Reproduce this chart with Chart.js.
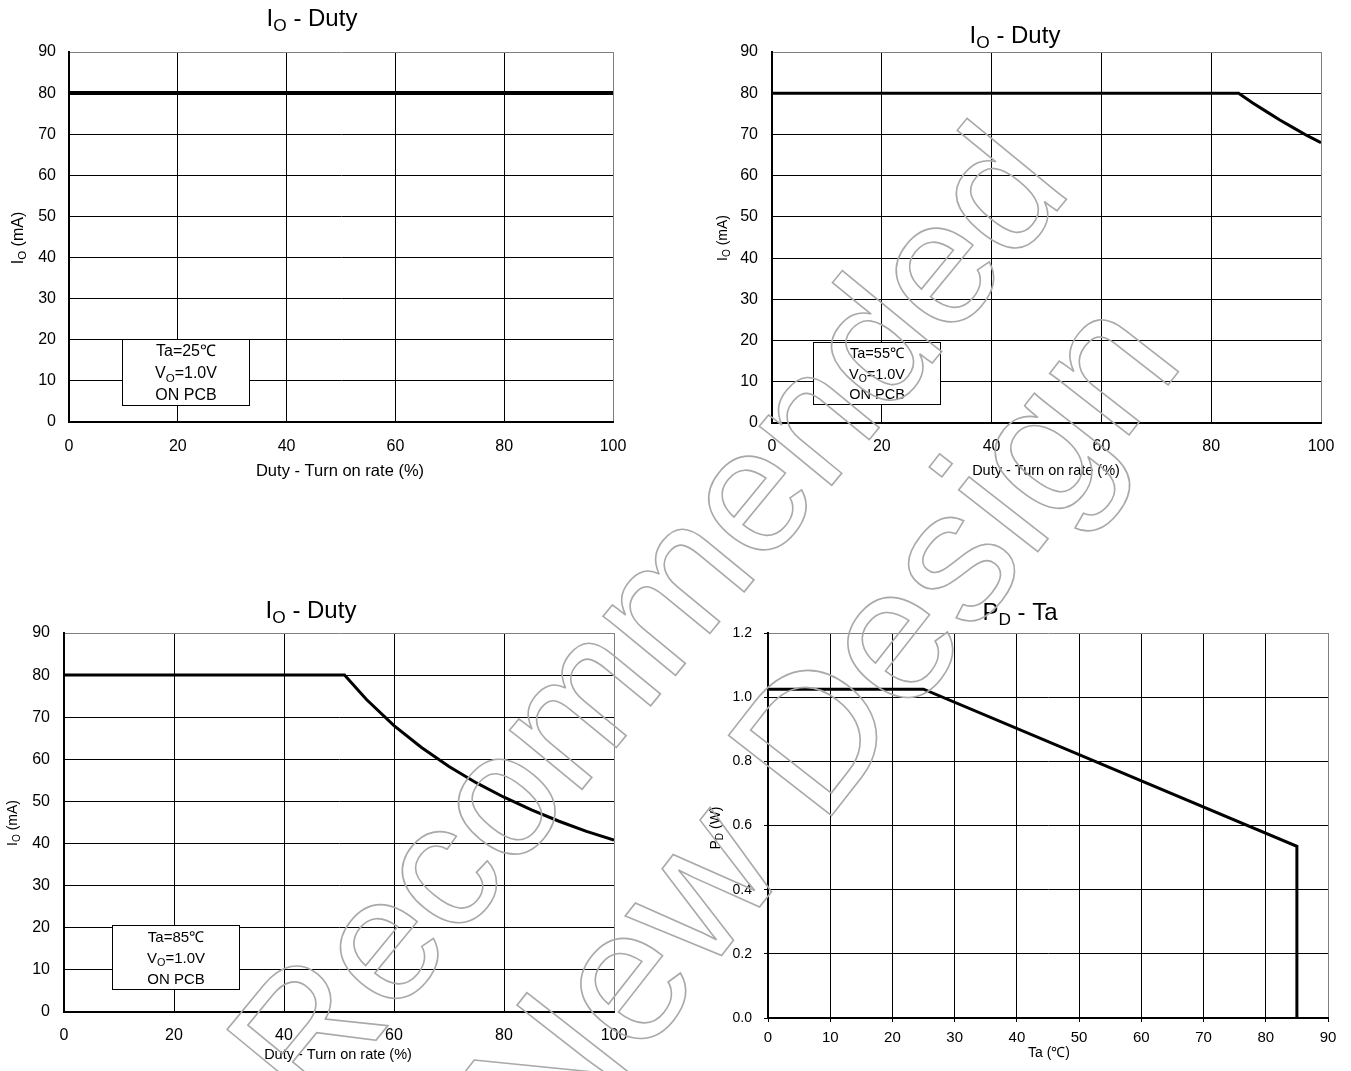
<!DOCTYPE html>
<html>
<head>
<meta charset="utf-8">
<script src="https://cdn.jsdelivr.net/npm/chart.js@4.4.1/dist/chart.umd.min.js"></script>
<style>
  body { margin: 0; background: #fff; width: 1351px; height: 1071px; position: relative; overflow: hidden; }
  canvas { position: absolute; }
  svg.wm { position: absolute; left: 0; top: 0; pointer-events: none; }
</style>
</head>
<body>
<canvas id="c1" width="675" height="535" style="left:0;top:0"></canvas>
<canvas id="c2" width="676" height="535" style="left:675px;top:0"></canvas>
<canvas id="c3" width="675" height="536" style="left:0;top:535px"></canvas>
<canvas id="c4" width="676" height="536" style="left:675px;top:535px"></canvas>

<!-- outlined watermark -->
<svg class="wm" width="1351" height="1071" font-family="Liberation Sans, Arial, sans-serif"
     fill="none" stroke="#a9a9a9" stroke-width="1.6">
  <text transform="translate(312,1118) rotate(-50.6)" font-size="177">Recommended</text>
  <text transform="translate(555,1169) rotate(-52)" font-size="190">New</text>
  <text transform="translate(822,828) rotate(-52)" font-size="190">Design</text>
</svg>

<script>
// tick values
const dutyTicks = [0, 20, 40, 60, 80, 100];
const ioTicks = [0, 10, 20, 30, 40, 50, 60, 70, 80, 90];
const taTicks = [0, 10, 20, 30, 40, 50, 60, 70, 80, 90];
const pdTicks = [0, 0.2, 0.4, 0.6, 0.8, 1.0, 1.2];
const pdTickLabels = ['0.0', '0.2', '0.4', '0.6', '0.8', '1.0', '1.2'];

// Io - Duty @ Ta=25C
const duty25 = [0, 100];
const io25 = [80, 80];

// Io - Duty @ Ta=55C
const duty55 = [0, 85, 87.5, 90, 92.5, 95, 97.5, 100];
const io55 = [80, 80, 77.7, 75.6, 73.5, 71.6, 69.7, 68];

// Io - Duty @ Ta=85C
const duty85 = [0, 51, 55, 60, 65, 70, 75, 80, 85, 90, 95, 100];
const io85 = [80, 80, 74.2, 68, 62.8, 58.3, 54.4, 51, 48, 45.3, 42.9, 40.8];

// Pd - Ta
const taVals = [0, 25, 85, 85];
const pdVals = [1.025, 1.025, 0.535, 0];

const condTa = ['Ta=25℃', 'Ta=55℃', 'Ta=85℃'];

const FONT = '"Liberation Sans", Arial, sans-serif';

// draw a row of text pieces, some of them subscript, centred on (cx, cy)
function drawRuns(ctx, runs, cx, cy, size) {
    let w = 0;
    runs.forEach(([t, sub]) => {
        ctx.font = (sub ? size * 0.72 : size) + 'px ' + FONT;
        w += ctx.measureText(t).width;
    });
    let x = cx - w / 2;
    const base = cy + size * 0.36;
    ctx.textAlign = 'left';
    ctx.textBaseline = 'alphabetic';
    runs.forEach(([t, sub]) => {
        ctx.font = (sub ? size * 0.72 : size) + 'px ' + FONT;
        ctx.fillText(t, x, sub ? base + size * 0.22 : base);
        x += ctx.measureText(t).width;
    });
}

const decoPlugin = {
    id: 'deco',
    beforeDatasetsDraw(chart, args, o) {
        const ctx = chart.ctx;
        ctx.save();
        ctx.fillStyle = '#000';
        drawRuns(ctx, o.title, o.titleAt[0], o.titleAt[1], o.titleSize);
        drawRuns(ctx, o.xTitle, o.xTitleAt[0], o.xTitleAt[1], o.xTitleSize);
        ctx.save();
        ctx.translate(o.yTitleAt[0], o.yTitleAt[1]);
        ctx.rotate(-Math.PI / 2);
        drawRuns(ctx, o.yTitle, 0, 0, o.yTitleSize);
        ctx.restore();

        // condition box, placed in data units
        if (o.box) {
            const xs = chart.scales.x, ys = chart.scales.y;
            const x0 = Math.round(xs.getPixelForValue(o.box.x[0])) + 0.5;
            const x1 = Math.round(xs.getPixelForValue(o.box.x[1])) + 0.5;
            const y0 = Math.round(ys.getPixelForValue(o.box.y[1])) + 0.5;
            const y1 = Math.round(ys.getPixelForValue(o.box.y[0])) + 0.5;
            ctx.fillStyle = '#fff';
            ctx.fillRect(x0, y0, x1 - x0, y1 - y0);
            ctx.strokeStyle = '#000';
            ctx.lineWidth = 1;
            ctx.strokeRect(x0, y0, x1 - x0, y1 - y0);
            ctx.fillStyle = '#000';
            const cx = (x0 + x1) / 2, h = y1 - y0;
            const lines = [[[o.box.ta]], [['V'], ['O', 1], ['=1.0V']], [['ON PCB']]];
            [0.17, 0.5, 0.83].forEach((f, i) => drawRuns(ctx, lines[i], cx, y0 + h * f, o.box.size));
        }
        ctx.restore();
    }
};

function gridColor(max) {
    return c => (c.tick && c.tick.value === max ? '#808080' : '#000');
}

function makeChart(id, cfg) {
    const xTicks = cfg.xTicks, yTicks = cfg.yTicks;
    return new Chart(document.getElementById(id), {
        type: 'line',
        data: {
            datasets: [{
                data: cfg.xs.map((x, i) => ({ x: x, y: cfg.ys[i] })),
                borderColor: '#000',
                borderWidth: cfg.lineWidth,
                pointRadius: 0,
                tension: 0,
                fill: false
            }]
        },
        options: {
            responsive: false,
            animation: false,
            layout: { padding: { top: cfg.pad.top, right: cfg.pad.right, left: 0, bottom: 0 } },
            plugins: {
                legend: { display: false },
                tooltip: { enabled: false },
                deco: cfg.deco
            },
            scales: {
                x: {
                    type: 'linear',
                    min: xTicks[0],
                    max: xTicks[xTicks.length - 1],
                    afterBuildTicks: s => { s.ticks = xTicks.map(v => ({ value: v })); },
                    afterFit: s => { s.height = cfg.pad.bottom; },
                    grid: { color: gridColor(xTicks[xTicks.length - 1]), lineWidth: 1, drawTicks: cfg.tickLen > 0, tickLength: cfg.tickLen, tickColor: '#000' },
                    border: { color: '#000', width: 2 },
                    ticks: { color: '#000', font: { family: FONT, size: cfg.tickSize }, padding: cfg.xPad, maxRotation: 0, autoSkip: false }
                },
                y: {
                    type: 'linear',
                    min: yTicks[0],
                    max: yTicks[yTicks.length - 1],
                    afterBuildTicks: s => { s.ticks = yTicks.map(v => ({ value: v })); },
                    afterFit: s => { s.width = cfg.pad.left; },
                    grid: { color: gridColor(yTicks[yTicks.length - 1]), lineWidth: 1, drawTicks: cfg.tickLen > 0, tickLength: cfg.tickLen, tickColor: '#000' },
                    border: { color: '#000', width: 2 },
                    ticks: {
                        color: '#000', font: { family: FONT, size: cfg.yTickSize || cfg.tickSize }, padding: cfg.yPad, autoSkip: false,
                        callback: cfg.yLabels ? (v, i) => cfg.yLabels[i] : (v => v)
                    }
                }
            }
        },
        plugins: [decoPlugin]
    });
}

const ioTitle = [['I'], ['O', 1], [' - Duty']];
const ioAxis = [['I'], ['O', 1], [' (mA)']];
const dutyAxis = [['Duty - Turn on rate (%)']];

makeChart('c1', {
    xs: duty25, ys: io25, xTicks: dutyTicks, yTicks: ioTicks, lineWidth: 4,
    pad: { top: 52, right: 62, left: 69, bottom: 113 },
    tickLen: 0, tickSize: 16, xPad: 15, yPad: 13,
    deco: {
        title: ioTitle, titleAt: [312, 17.5], titleSize: 24,
        xTitle: dutyAxis, xTitleAt: [340, 470], xTitleSize: 16.5,
        yTitle: ioAxis, yTitleAt: [17, 238], yTitleSize: 16,
        box: { x: [9.8, 33], y: [4.2, 20.3], ta: condTa[0], size: 16 }
    }
});

makeChart('c2', {
    xs: duty55, ys: io55, xTicks: dutyTicks, yTicks: ioTicks, lineWidth: 3,
    pad: { top: 52, right: 30, left: 97, bottom: 112 },
    tickLen: 0, tickSize: 16, xPad: 14, yPad: 14,
    deco: {
        title: ioTitle, titleAt: [340, 34.5], titleSize: 24,
        xTitle: dutyAxis, xTitleAt: [371, 470], xTitleSize: 14.5,
        yTitle: ioAxis, yTitleAt: [47, 238], yTitleSize: 14,
        box: { x: [7.5, 30.6], y: [4.6, 19.6], ta: condTa[1], size: 14.5 }
    }
});

makeChart('c3', {
    xs: duty85, ys: io85, xTicks: dutyTicks, yTicks: ioTicks, lineWidth: 3,
    pad: { top: 98, right: 61, left: 64, bottom: 59 },
    tickLen: 0, tickSize: 16, xPad: 14, yPad: 14,
    deco: {
        title: ioTitle, titleAt: [311, 74.5], titleSize: 24,
        xTitle: dutyAxis, xTitleAt: [338, 519], xTitleSize: 14.5,
        yTitle: ioAxis, yTitleAt: [12, 288], yTitleSize: 14,
        box: { x: [8.8, 31.9], y: [5.5, 20.7], ta: condTa[2], size: 15 }
    }
});

makeChart('c4', {
    xs: taVals, ys: pdVals, xTicks: taTicks, yTicks: pdTicks, yLabels: pdTickLabels, lineWidth: 3,
    pad: { top: 98, right: 23, left: 93, bottom: 53 },
    tickLen: 4, tickSize: 15, yTickSize: 14, xPad: 7, yPad: 12,
    deco: {
        title: [['P'], ['D', 1], [' - Ta']], titleAt: [345, 76], titleSize: 24,
        xTitle: [['Ta (℃)']], xTitleAt: [374, 517], xTitleSize: 14,
        yTitle: [['P'], ['D', 1], [' (W)']], yTitleAt: [40, 293], yTitleSize: 14
    }
});
</script>
</body>
</html>
